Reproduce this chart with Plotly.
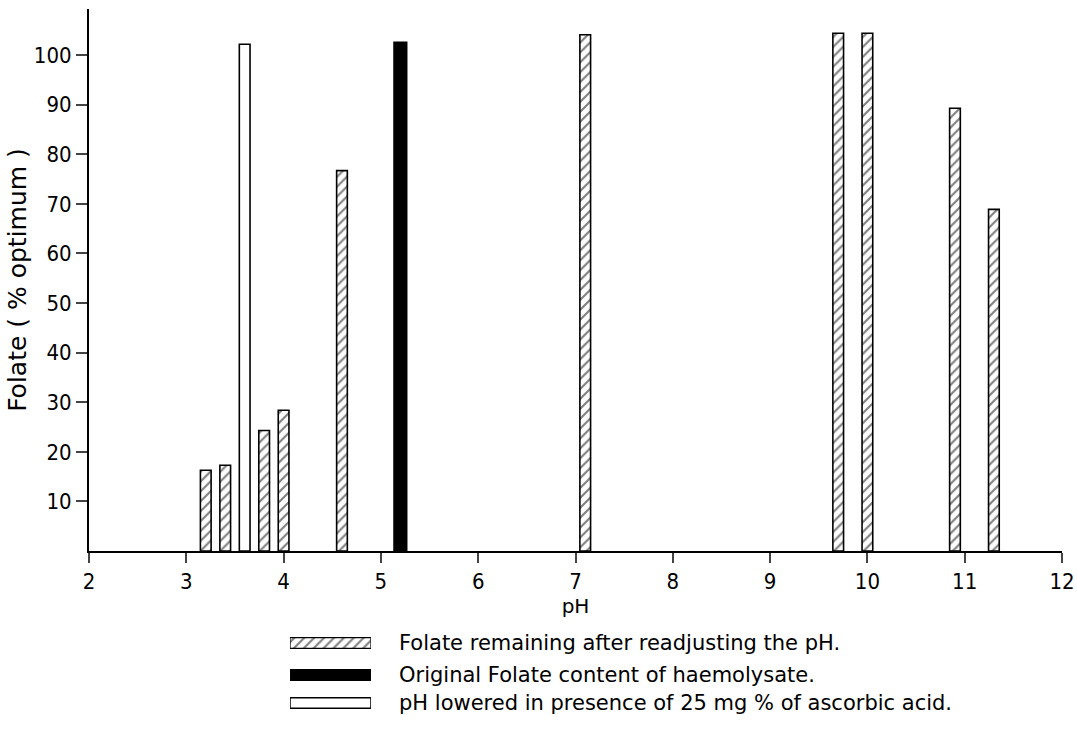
import plotly.graph_objects as go

# Data
hatched_ph = [3.2, 3.4, 3.8, 4.0, 4.6, 7.1, 9.7, 10.0, 10.9, 11.3]
hatched_folate = [16.3, 17.3, 24.3, 28.4, 76.7, 104.1, 104.4, 104.4, 89.3, 68.9]
black_ph = [5.2]
black_folate = [102.6]
white_ph = [3.6]
white_folate = [102.2]

legend_labels = [
    "Folate remaining after readjusting the pH.",
    "Original Folate content of haemolysate.",
    "pH lowered in presence of 25 mg % of ascorbic acid.",
]
x_ticks = list(range(2, 13))
y_ticks = list(range(10, 101, 10))

NARROW = "Liberation Sans Narrow, DejaVu Sans Condensed, sans-serif"
WIDE = "DejaVu Sans, Verdana, sans-serif"
hatch = dict(shape="/", fillmode="overlay", bgcolor="white", fgcolor="black", size=7, solidity=0.3)
outline = dict(color="black", width=1.6)

fig = go.Figure()
fig.add_bar(x=hatched_ph, y=hatched_folate, width=0.11,
            marker=dict(color="white", pattern=hatch, line=outline), showlegend=False)
fig.add_bar(x=black_ph, y=black_folate, width=0.13,
            marker=dict(color="black", line=outline), showlegend=False)
fig.add_bar(x=white_ph, y=white_folate, width=0.11,
            marker=dict(color="white", line=outline), showlegend=False)

# Legend swatches drawn on a hidden auxiliary axis
legend_rows = [0.714, 0.413, 0.150]
fig.add_bar(x=[1], y=[legend_rows[0]], base=0, orientation="h", width=0.1,
            marker=dict(color="white", pattern=hatch, line=dict(color="black", width=1.2)),
            xaxis="x2", yaxis="y2", showlegend=False)
fig.add_bar(x=[1], y=[legend_rows[1]], base=0, orientation="h", width=0.1,
            marker=dict(color="black", line=dict(color="black", width=1.2)),
            xaxis="x2", yaxis="y2", showlegend=False)
fig.add_bar(x=[1], y=[legend_rows[2]], base=0, orientation="h", width=0.1,
            marker=dict(color="white", line=dict(color="black", width=1.5)),
            xaxis="x2", yaxis="y2", showlegend=False)

for label, yr in zip(legend_labels, legend_rows):
    fig.add_annotation(x=0.3166, y=yr, xref="paper", yref="y2", text=label,
                       showarrow=False, xanchor="left", yanchor="middle",
                       font=dict(family=WIDE, size=21, color="black"))

fig.update_layout(
    width=1077, height=739,
    margin=dict(l=89, r=15, t=9, b=20),
    paper_bgcolor="white", plot_bgcolor="white",
    barmode="overlay",
    font=dict(family=NARROW, color="black", size=18),
    xaxis=dict(range=[2, 12], tickvals=x_ticks, ticks="outside", ticklen=10, tickwidth=2,
               showline=True, linewidth=2, linecolor="black", showgrid=False, zeroline=False,
               automargin=False, tickfont=dict(family=NARROW, size=22),
               title=dict(text="pH", standoff=4, font=dict(family=WIDE, size=20))),
    yaxis=dict(range=[0, 109.3], domain=[0.2366, 1], tickvals=y_ticks, ticks="outside",
               ticklen=11, tickwidth=2, showline=True, linewidth=2, linecolor="black",
               showgrid=False, zeroline=False, automargin=False,
               tickfont=dict(family=NARROW, size=22),
               title=dict(text="Folate ( % optimum )", standoff=0, font=dict(family=WIDE, size=25))),
    xaxis2=dict(domain=[0.2066, 0.2898], range=[0, 1], visible=False, anchor="y2"),
    yaxis2=dict(domain=[0, 0.15], range=[0, 1], visible=False, anchor="x2"),
)

fig.write_html("out.html")
